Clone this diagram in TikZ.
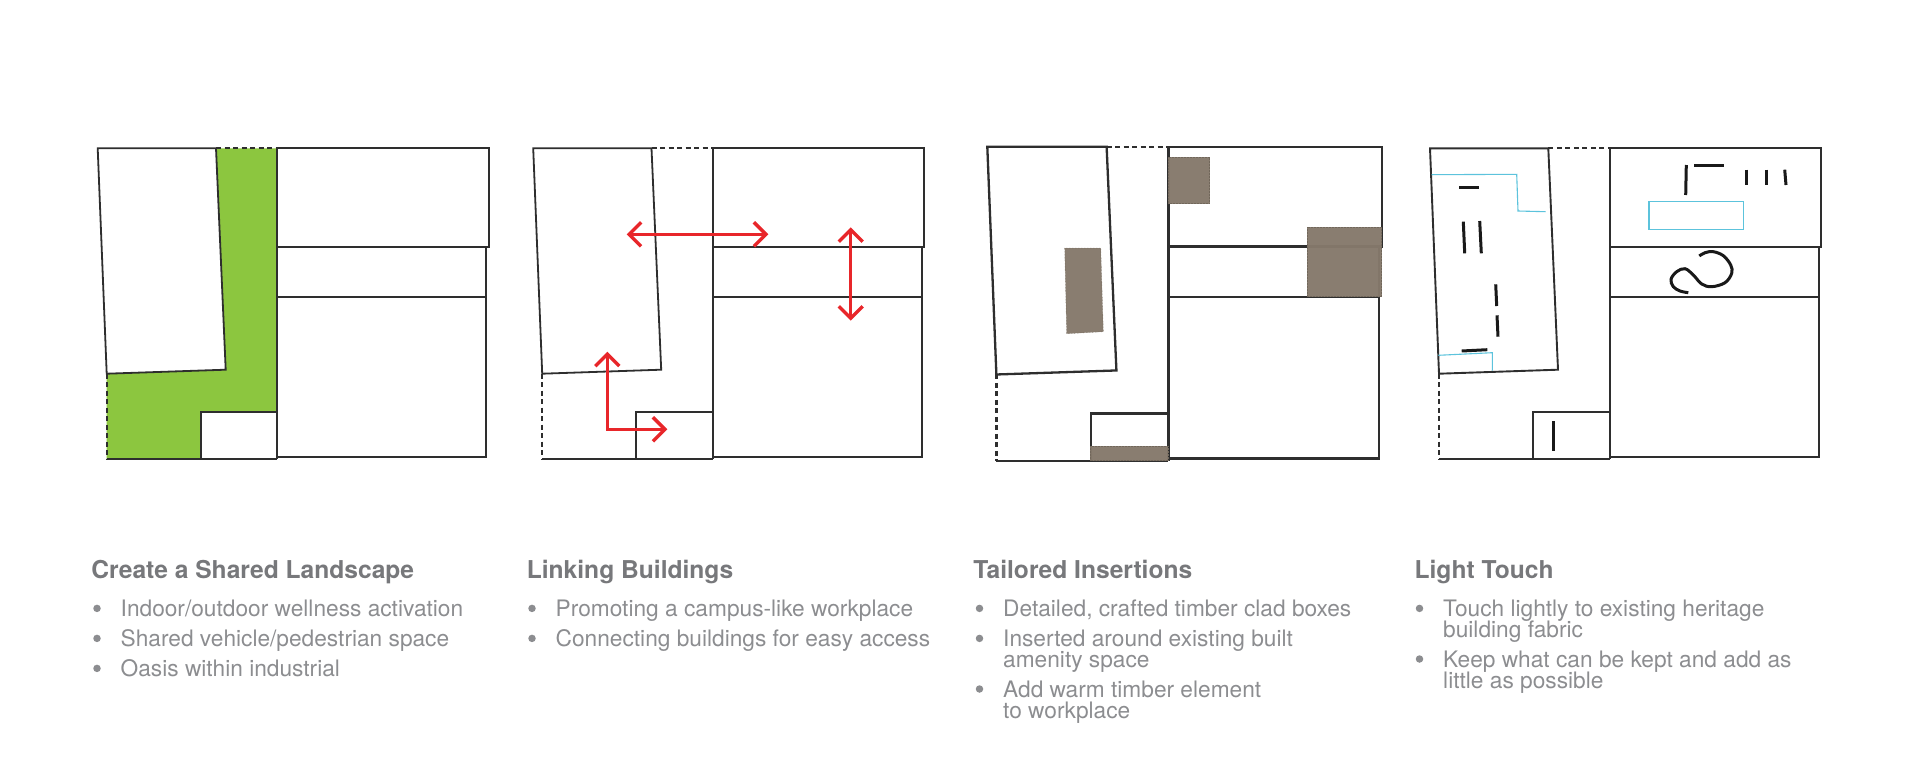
\documentclass[tikz,border=0pt]{standalone}
\usepackage{fontspec}
\setmainfont{TeX Gyre Heros}
\usetikzlibrary{positioning}
\usetikzlibrary{arrows.meta}
\definecolor{wallgray}{HTML}{2E2E2E}
\definecolor{lawngreen}{HTML}{8CC63F}
\definecolor{timberbrown}{HTML}{85796B}
\definecolor{linkred}{HTML}{E8262A}
\definecolor{glassblue}{HTML}{5CC3DC}
\definecolor{headgray}{HTML}{77787B}
\definecolor{bodygray}{HTML}{8C8D90}
\tikzstyle{wall} = [draw=wallgray]
\tikzstyle{openwall} = [draw=wallgray,dashed,dash pattern=on 5pt off 3.5pt]
\tikzstyle{timber} = [fill=timberbrown,fill opacity=.97,draw=timberbrown!85!black,densely dotted,line width=.5pt]
\tikzstyle{redarrow} = [draw=linkred,line width=3.4pt,{Straight Barb[length=12pt,width=24pt]}-{Straight Barb[length=12pt,width=24pt]}]
\tikzstyle{marktick} = [draw=black!90,line width=3pt]
\tikzstyle{glassline} = [draw=glassblue,line width=1.1pt]
\tikzstyle{heading} = [anchor=base west,inner sep=0pt,text=headgray,font=\fontsize{24.6}{25}\selectfont\bfseries]
\tikzstyle{bodytext} = [anchor=base west,inner sep=0pt,text=bodygray,align=left,font=\fontsize{22.7}{23}\selectfont]
\tikzstyle{bulletdot} = [circle,fill=bodygray,minimum size=7.5pt,inner sep=0pt]

\begin{document}
\begin{tikzpicture}[x=1pt,y=-1pt]

    \useasboundingbox (0,0) rectangle (1920,779);

    \fill[lawngreen] (216,148.3) -- (277.3,148.3) -- (277.3,412.3) -- (200.7,412.3) -- (200.7,459) -- (106.7,459) -- (106.7,373.7) -- (225.7,369.7) -- cycle;

    \foreach \sx/\sy/\fx/\fy/\lw in {97.7/148.3/1/1/1.8, 533.2/148.3/1/1/1.8, 987.3/146.7/1.0087/1.0106/2.3, 1430/148.3/1/1/1.9}
    {
        \begin{scope}[shift={(\sx,\sy)},xscale=\fx,yscale=\fy,line width=\lw pt]
            \draw[wall] (118.3,0) -- (0,0) -- (9,225.4) -- (128,221.4) -- cycle;
            \draw[wall] (179.6,0) rectangle (391,98.7);
            \draw[wall] (179.6,98.7) -- (179.6,148.7) -- (388.6,148.7) -- (388.6,98.7);
            \draw[wall] (179.6,148.7) -- (179.6,310.7) (179.6,308.4) -- (388.6,308.4) -- (388.6,148.7);
            \draw[wall] (9,310.7) -- (179.6,310.7);
            \draw[wall] (103,310.7) -- (103,264) -- (179.6,264);
            \draw[openwall] (118.3,0) -- (179.6,0);
            \draw[openwall] (9,225.4) -- (9,310.7);
        \end{scope}
    }

    % arrows
    \coordinate (crossW) at (626.7,234.3);
    \coordinate (crossE) at (768.3,234.3);
    \coordinate (upperN) at (850.7,227.3);
    \coordinate (upperS) at (850.7,320.7);
    \coordinate (yardN) at (607.3,351.7);
    \coordinate (yardC) at (607.3,429.3);
    \coordinate (yardE) at (667.3,429.3);
    \draw[redarrow] (crossW) -- (crossE);
    \draw[redarrow] (upperN) -- (upperS);
    \draw[redarrow] (yardN) -- (yardC) -- (yardE);

    % timber boxes
    \fill[timber] (1168.3,157) rectangle (1209.7,203.7);
    \fill[timber] (1307.3,227.3) rectangle (1381.7,296.7);
    \fill[timber] (1090.3,446.3) rectangle (1168.3,460.7);
    \fill[timber] (1064.7,248) -- (1100.7,248) -- (1103.3,331.7) -- (1066.7,333.7) -- cycle;

    % light touch marks
    \foreach \ax/\ay/\bx/\by in {1459.3/187.7/1479.3/187.7, 1463.3/221.7/1464.7/253.3, 1479.7/221/1481.3/253.3, 1495.7/284.3/1496.7/306, 1497/315.3/1498/336.7, 1461.7/351/1487.3/349.7, 1553/421.3/1553/450.7, 1686.3/165/1685.7/195, 1694.3/165.3/1723.7/165.3, 1746.3/169.7/1746.3/185, 1766/169.7/1766/185, 1784.7/169.7/1786/185}
        \draw[marktick] (\ax,\ay) -- (\bx,\by);

    \draw[glassline] (1431.7,174.7) -- (1516.7,174.3) -- (1518,211) -- (1545.7,211.7);
    \draw[glassline] (1438.3,355.3) -- (1492.3,352.7) -- (1492.3,370.7);
    \draw[glassline] (1649,201.7) rectangle (1743.3,229.7);
    \draw[marktick] plot[smooth,tension=.6] coordinates {(1699.3,256) (1705,252.7) (1713.3,251.7) (1723.3,255.7) (1730.7,265) (1731.7,273.3) (1725,282.7) (1711.7,286.7) (1701.7,284) (1693.3,275) (1685,268.7) (1676.7,271.7) (1671,279.3) (1673.3,286.7) (1680,291) (1688.3,292.7)};

    \foreach \pos/\name/\label in {{(91.2,578.3)/shared/Create a Shared Landscape}, {(526.6,578.3)/linking/Linking Buildings}, {(973.2,578.3)/tailored/Tailored Insertions}, {(1414.4,578.3)/light/Light Touch}}
        \node[heading] (\name) at \pos {\label};

    % \dy moves the base down to the last line of a wrapped item
    \foreach \x/\y/\dy/\name/\label in {120.5/616.7/0/wellness/{Indoor/outdoor wellness activation}, 120.5/646.7/0/vehicle/{Shared vehicle/pedestrian space}, 120.5/676.7/0/oasis/{Oasis within industrial}, 555.5/616.7/0/campus/{Promoting a campus-like workplace}, 555.5/646.7/0/access/{Connecting buildings for easy access}, 1003/616.7/0/crafted/{Detailed, crafted timber clad boxes}, 1003/646.7/21/amenity/{Inserted around existing built\\[-2pt]amenity space}, 1003/697.3/21/warm/{Add warm timber element\\[-2pt]to workplace}, 1443/616.7/21/heritage/{Touch lightly to existing heritage\\[-2pt]building fabric}, 1443/667.3/21/kept/{Keep what can be kept and add as\\[-2pt]little as possible}}
    {
        \node[bodytext] (\name) at (\x,\y+\dy) {\label};
        \node[bulletdot] (\name dot) at (\x-23.5,\y-8.3) {};
    }

\end{tikzpicture}
\end{document}
